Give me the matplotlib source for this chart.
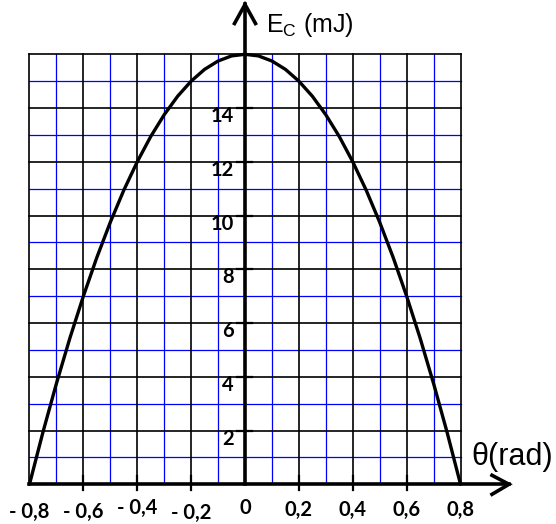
import matplotlib
matplotlib.use("Agg")
import matplotlib.pyplot as plt
import numpy as np

# ---- data ----
theta = [-0.80, -0.75, -0.70, -0.65, -0.60, -0.55, -0.50, -0.45, -0.40, -0.35,
         -0.30, -0.25, -0.20, -0.15, -0.10, -0.05, 0.00,
         0.05, 0.10, 0.15, 0.20, 0.25, 0.30, 0.35, 0.40, 0.45,
         0.50, 0.55, 0.60, 0.65, 0.70, 0.75, 0.80]
ec = [0.00, 1.94, 3.75, 5.44, 7.00, 8.44, 9.75, 10.94, 12.00, 12.94,
      13.75, 14.44, 15.00, 15.44, 15.75, 15.94, 16.00,
      15.94, 15.75, 15.44, 15.00, 14.44, 13.75, 12.94, 12.00, 10.94,
      9.75, 8.44, 7.00, 5.44, 3.75, 1.94, 0.00]
x_tick_vals = [-0.8, -0.6, -0.4, -0.2, 0.0, 0.2, 0.4, 0.6, 0.8]
x_tick_labels = ["- 0,8", "- 0,6", "- 0,4", "- 0,2", "0", "0,2", "0,4", "0,6", "0,8"]
y_tick_vals = [2, 4, 6, 8, 10, 12, 14]
y_tick_labels = ["2", "4", "6", "8", "10", "12", "14"]
x_label = "θ(rad)"
y_label = r"E$_\mathregular{C}$ (mJ)"

# ---- figure ----
W, H = 556, 524
fig = plt.figure(figsize=(W / 100, H / 100), dpi=100)
ax = fig.add_axes([0, 0, 1, 1])
sx = 269.4   # px per rad
sy = 26.875  # px per mJ
x0px, y0px = 245.0, 484.3
ax.set_xlim(-x0px / sx, (W - x0px) / sx)
ax.set_ylim(-(H - y0px) / sy, y0px / sy)
ax.axis("off")

xmin, xmax, ymin, ymax = -0.8, 0.8, 0, 16
# grid
for i in range(-8, 9):
    xv = i / 10
    if i % 2:
        ax.plot([xv, xv], [ymin, ymax], color="#0000ff", lw=0.9, zorder=1)
for i in range(-8, 9):
    xv = i / 10
    if i % 2 == 0:
        ax.plot([xv, xv], [ymin, ymax], color="black", lw=1.2, zorder=2)
for j in range(0, 17):
    if j % 2:
        ax.plot([xmin, xmax], [j, j], color="#0000ff", lw=0.9, zorder=1)
for j in range(0, 17):
    if j % 2 == 0:
        ax.plot([xmin, xmax], [j, j], color="black", lw=1.2, zorder=2)

# curve
ax.plot(theta, ec, color="black", lw=2.4, zorder=5, solid_capstyle="round")

# axes lines
ytop = (y0px - 4.5) / sy
xright = (509 - x0px) / sx
ax.plot([0, 0], [0, ytop], color="black", lw=2.6, zorder=6)
ax.plot([xmin, xright], [0, 0], color="black", lw=2.6, zorder=6)
# arrow heads (chevrons)
ax.plot([-10.5 / sx, 0, 10.5 / sx], [ytop - 19 / sy, ytop, ytop - 19 / sy],
        color="black", lw=2.6, zorder=6, solid_joinstyle="miter")
ax.plot([xright - 17 / sx, xright, xright - 17 / sx], [9 / sy, 0, -10 / sy],
        color="black", lw=2.6, zorder=6, solid_joinstyle="miter")

# ticks
for yv in y_tick_vals:
    ax.plot([-8 / sx, 7 / sx], [yv, yv], color="black", lw=1.6, zorder=6)
for xv in x_tick_vals:
    if xv not in (0.0, -0.8, 0.8):
        ax.plot([xv, xv], [-6 / sy, 8 / sy], color="black", lw=1.6, zorder=6)

# tick labels
bold = dict(family=["Lato", "DejaVu Sans"], fontweight="bold", fontsize=14.5)
for yv, lab in zip(y_tick_vals, y_tick_labels):
    ax.text(-11 / sx, yv - 8 / sy, lab, ha="right", va="center", **bold, zorder=7)
x_lab_dy = [27.5, 27.5, 23.5, 28.5, 24, 26, 26, 26, 26]
for xv, lab, dy in zip(x_tick_vals, x_tick_labels, x_lab_dy):
    ax.text(xv, -dy / sy, lab, ha="center", va="center", **bold, zorder=7)

# axis titles
ax.text(266 / sx - x0px / sx, (y0px - 25) / sy, y_label, ha="left", va="center",
        family=["Liberation Sans", "DejaVu Sans"], fontsize=18)
ax.text((471 - x0px) / sx, (y0px - 457) / sy, x_label, ha="left", va="center",
        family=["Liberation Sans", "DejaVu Sans"], fontsize=22)

fig.savefig("out.png", dpi=100)
